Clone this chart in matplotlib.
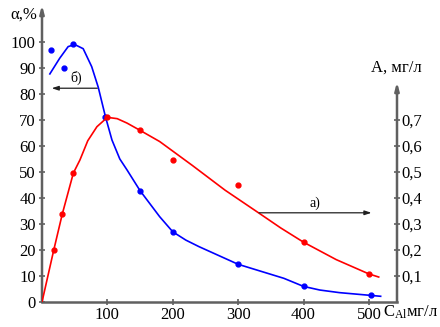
import matplotlib.pyplot as plt
from matplotlib.ticker import FuncFormatter

plt.switch_backend("Agg")

plt.rcParams["font.family"] = ["Liberation Serif", "DejaVu Serif"]
plt.rcParams["mathtext.fontset"] = "custom"
plt.rcParams["mathtext.rm"] = "Liberation Serif"
plt.rcParams["mathtext.it"] = "Liberation Serif"

# α, % (left axis): fitted curve and measured points
alpha_curve_c = [12, 27, 40, 50, 63, 76, 86, 97, 107, 119, 130, 150, 180, 200,
                 220, 240, 300, 370, 400, 425, 455, 500, 518]
alpha_curve = [87.7, 93.7, 98.2, 99.0, 97.4, 90.5, 82.6, 71.3, 62.3, 55.0, 50.8,
               42.8, 32.8, 27.0, 23.8, 21.3, 14.5, 9.1, 6.0, 4.6, 3.6, 2.6, 2.2]
alpha_pts_c = [14, 34, 48, 97, 150, 200, 300, 400, 503]
alpha_pts = [96.8, 89.9, 99.1, 71.3, 42.8, 26.9, 14.5, 6.0, 2.6]

# A, мг/л (right axis): fitted curve and measured points
a_curve_c = [0, 18, 31, 48, 58, 70, 84, 100, 115, 130, 150, 180, 230, 280,
             330, 365, 400, 450, 500, 515]
a_curve = [0.0, 0.20, 0.338, 0.496, 0.546, 0.62, 0.674, 0.71, 0.705, 0.688,
           0.66, 0.617, 0.525, 0.43, 0.345, 0.285, 0.23, 0.163, 0.108, 0.096]
a_pts_c = [18, 31, 48, 99, 150, 200, 300, 400, 500]
a_pts = [0.20, 0.338, 0.496, 0.71, 0.66, 0.546, 0.45, 0.23, 0.108]

alpha_ticks = [0, 10, 20, 30, 40, 50, 60, 70, 80, 90, 100]
a_ticks = [0.1, 0.2, 0.3, 0.4, 0.5, 0.6, 0.7]
c_ticks = [100, 200, 300, 400, 500]

W, H = 440, 327
axis_color = "#606060"

fig = plt.figure(figsize=(W / 100, H / 100), dpi=100)
fig.patch.set_facecolor("white")

# axes box: x from px 42 to 397, y from px 302 up to 5
ax = fig.add_axes([42 / W, (H - 302) / H, (397 - 42) / W, (302 - 5) / H])
ax.set_xlim(0, 543)
ax.set_ylim(0, 114.2)
ax2 = ax.twinx()
ax2.set_ylim(0, 1.142)

for a in (ax, ax2):
    for s in a.spines.values():
        s.set_visible(False)
    a.patch.set_visible(False)

ax.set_xticks(c_ticks)
ax.set_yticks(alpha_ticks)
ax2.set_yticks(a_ticks)
ax2.yaxis.set_major_formatter(FuncFormatter(lambda v, p: f"{v:.1f}".replace(".", ",")))

ax.tick_params(axis="both", direction="inout", length=5, width=1.2,
               color=axis_color, labelsize=12, labelcolor="black")
ax.tick_params(axis="y", pad=2)
ax.tick_params(axis="x", pad=1)
ax2.tick_params(axis="y", direction="inout", length=5, width=1.2,
                color=axis_color, labelsize=12, labelcolor="black", pad=1)

# axis lines
ax.plot([0, 543], [0, 0], color=axis_color, lw=1.8, clip_on=False, zorder=1)
ax.annotate("", xy=(0, 114.2), xytext=(0, 0), annotation_clip=False,
            arrowprops=dict(arrowstyle="-|>,head_length=0.45,head_width=0.12",
                            color=axis_color, lw=1.8, shrinkA=0, shrinkB=0))
ax.annotate("", xy=(543, 84.6), xytext=(543, 0), annotation_clip=False,
            arrowprops=dict(arrowstyle="-|>,head_length=0.45,head_width=0.12",
                            color=axis_color, lw=1.8, shrinkA=0, shrinkB=0))

# curves
ax.plot(alpha_curve_c, alpha_curve, color="#0000ff", lw=1.2, zorder=3)
ax.plot(alpha_pts_c, alpha_pts, "o", color="#0000ff", ms=3.5, zorder=4)
ax2.plot(a_curve_c, a_curve, color="#ff0000", lw=1.2, zorder=3)
ax2.plot(a_pts_c, a_pts, "o", color="#ff0000", ms=3.5, zorder=4)

# curve-to-axis pointers
ax.annotate("", xy=(14.8, 82.2), xytext=(84.6, 82.2),
            arrowprops=dict(arrowstyle="-|>,head_length=0.4,head_width=0.13",
                            color="#202020", lw=0.9, shrinkA=0, shrinkB=0))
ax.text(53, 83.3, "б)", fontsize=10, ha="center", va="bottom")
ax2.annotate("", xy=(504, 0.343), xytext=(332, 0.343),
             arrowprops=dict(arrowstyle="-|>,head_length=0.4,head_width=0.13",
                             color="#202020", lw=0.9, shrinkA=0, shrinkB=0))
ax2.text(417, 0.353, "а)", fontsize=10, ha="center", va="bottom")

# axis titles
fig.text(24 / W, 1 - 15 / H, "α,%", fontsize=12, ha="center", va="center")
fig.text(396 / W, 1 - 68 / H, "А, мг/л", fontsize=12, ha="center", va="center")
fig.text(383 / W, 1 - 317 / H, r"С$_{\mathrm{Al}}$мг/л", fontsize=12,
         ha="left", va="baseline")

fig.savefig("out.png", dpi=100, facecolor="white")
